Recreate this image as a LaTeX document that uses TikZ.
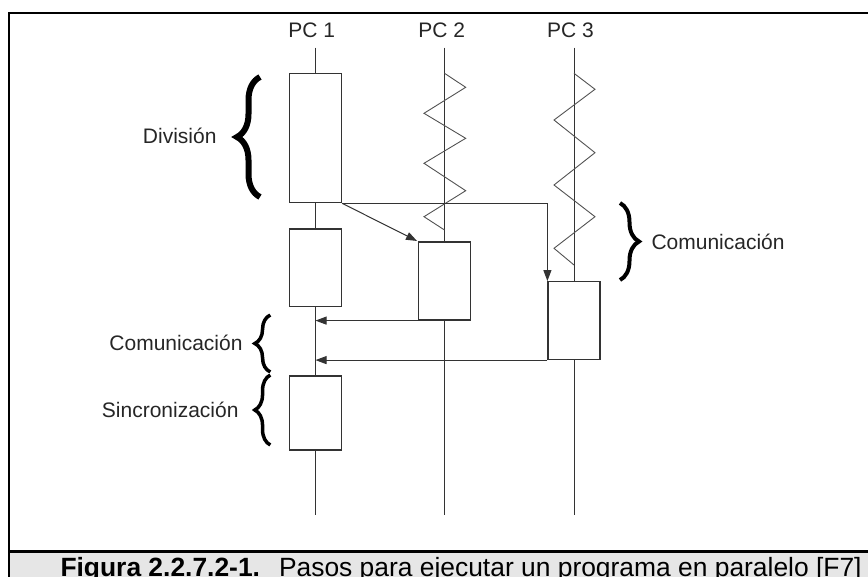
\documentclass[tikz,border=0pt]{standalone}
\usepackage{fontspec}
\setmainfont{Liberation Sans}
\usetikzlibrary{arrows.meta,decorations.pathreplacing}

\definecolor{linea}{HTML}{333333}
\definecolor{texto}{HTML}{262626}
\definecolor{franja}{HTML}{E6E6E6}

\begin{document}
\begin{tikzpicture}[x=1pt, y=-1pt, > = {Triangle[length=11pt,width=8pt]}, line width=1pt]
    \tikzstyle{proc}=[rectangle, draw=linea, line width=1.2pt, minimum width=52pt, inner sep=0pt]
    \tikzstyle{etiq}=[inner sep=0pt, text=texto, font=\fontsize{21}{25}\selectfont]
    \tikzstyle{llave}=[decorate, draw=black, line width=3.5pt]
    \tikzstyle{zigzag}=[draw=linea!85, line width=0.9pt]

    \useasboundingbox (0,0) rectangle (868,576);

    % Marco y pie
    \fill[franja] (9,551.5) rectangle (880,585);
    \draw[line width=2.6pt] (880,13) -- (9,13) -- (9,585);
    \draw[line width=2.6pt] (9,551.5) -- (880,551.5);
    \node[anchor=base west, inner sep=0pt, font=\fontsize{26.4}{30}\selectfont] (pie) at (60,576.5)
        {\textbf{Figura 2.2.7.2-1.}\hspace{19pt}Pasos para ejecutar un programa en paralelo [F7]};

    % Nodos
    \node[etiq, anchor=base] (pc1) at (311.7,37.3) {PC 1};
    \node[etiq, anchor=base] (pc2) at (441.7,37.3) {PC 2};
    \node[etiq, anchor=base] (pc3) at (570.5,37.3) {PC 3};

    \coordinate (t1) at (315.5,47.7);
    \coordinate (t2) at (444.5,47.7);
    \coordinate (t3) at (574,47.7);
    \coordinate (b1) at (315.5,515);
    \coordinate (b2) at (444.5,515);
    \coordinate (b3) at (574,515);

    \node[proc, minimum height=129.4pt] (p1a) at (315.5,138) {};
    \node[proc, minimum height=77.5pt] (p1b) at (315.5,267.7) {};
    \node[proc, minimum height=74pt] (p1c) at (315.5,413) {};
    \node[proc, minimum height=78pt] (p2a) at (444.5,281) {};
    \node[proc, minimum height=77.8pt] (p3a) at (574,320.6) {};

    % Lineas de cada PC
    \draw[-, linea] (t1) -- (p1a);
    \draw[-, linea] (p1a) -- (p1b);
    \draw[-, linea] (p1b) -- (p1c);
    \draw[-, linea] (p1c) -- (b1);
    \draw[-, linea] (t2) -- (p2a);
    \draw[-, linea] (p2a) -- (b2);
    \draw[-, linea] (t3) -- (p3a);
    \draw[-, linea] (p3a) -- (b3);

    % Espera
    \draw[zigzag] (444.5,73.3) -- (465.7,87.3) -- (424,113.3) -- (465.7,138.3) -- (424,163.3)
        -- (465.7,190.7) -- (424,216.7) -- (444.5,230);
    \draw[zigzag] (574,73.3) -- (595,89.3) -- (554,120) -- (595,152.7) -- (554,185)
        -- (595,216.7) -- (554,248.3) -- (574,265);

    % Flechas
    \draw[->, linea, shorten > = 1pt] (p1a.south east) -- (p2a.north west);
    \draw[->, linea] (p1a.south east) -| (p3a.north west);
    \draw[->, linea] (p2a.south west) -- (p2a.south west -| t1);
    \draw[->, linea] (p3a.south west) -- (p3a.south west -| t1);

    % Llaves
    \draw[llave, line width=6pt, decoration={brace, amplitude=23pt}] (260,197) -- (260,77);
    \draw[llave, decoration={brace, amplitude=15.5pt}] (270.3,372) -- (270.3,315);
    \draw[llave, decoration={brace, amplitude=15.5pt}] (270.3,445) -- (270.3,375);
    \draw[llave, line width=4pt, decoration={brace, amplitude=19pt}] (620,203) -- (620,280);

    \node[etiq, anchor=base east] (ldiv) at (217,143.5) {División};
    \node[etiq, anchor=base east] (lcom) at (243,350) {Comunicación};
    \node[etiq, anchor=base east] (lsin) at (239,417.3) {Sincronización};
    \node[etiq, anchor=base west] (lcomd) at (651,249.3) {Comunicación};
\end{tikzpicture}
\end{document}
